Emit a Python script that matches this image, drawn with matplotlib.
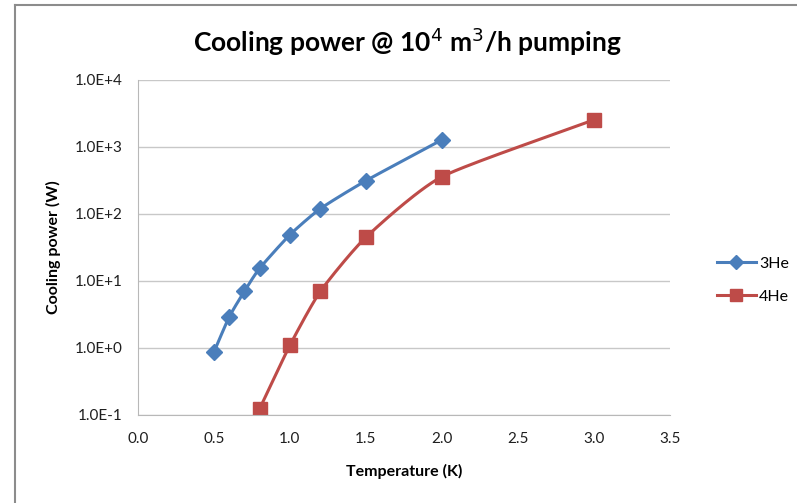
import matplotlib.pyplot as plt
import numpy as np
from matplotlib.lines import Line2D

plt.rcParams['font.family'] = ['Lato', 'DejaVu Sans']

he3_t = [0.5, 0.6, 0.7, 0.8, 1.0, 1.2, 1.5, 2.0]
he3_p = [0.87, 2.9, 7.0, 15.4, 49, 120, 314, 1280]
he4_t = [0.8, 1.0, 1.2, 1.5, 2.0, 3.0]
he4_p = [0.123, 1.1, 7.0, 45, 360, 2540]

y_ticks = [1e-1, 1e0, 1e1, 1e2, 1e3, 1e4]
y_labels = ["1.0E-1", "1.0E+0", "1.0E+1", "1.0E+2", "1.0E+3", "1.0E+4"]
x_ticks = [0.0, 0.5, 1.0, 1.5, 2.0, 2.5, 3.0, 3.5]


def smooth(x, y, n=30):
    # catmull-rom curve through the points, in log space (like Excel smoothing)
    px = np.array(x, float)
    py = np.log10(np.array(y, float))
    px = np.concatenate([[2 * px[0] - px[1]], px, [2 * px[-1] - px[-2]]])
    py = np.concatenate([[2 * py[0] - py[1]], py, [2 * py[-1] - py[-2]]])
    xs, ys = [], []
    for i in range(1, len(px) - 2):
        t = np.linspace(0, 1, n)
        for p, out in ((px, xs), (py, ys)):
            p0, p1, p2, p3 = p[i - 1], p[i], p[i + 1], p[i + 2]
            m1 = (p2 - p0) / 2 * 0.6
            m2 = (p3 - p1) / 2 * 0.6
            h00 = 2 * t**3 - 3 * t**2 + 1
            h10 = t**3 - 2 * t**2 + t
            h01 = -2 * t**3 + 3 * t**2
            h11 = t**3 - t**2
            out.extend(h00 * p1 + h10 * m1 + h01 * p2 + h11 * m2)
    return np.array(xs), 10 ** np.array(ys)


fig = plt.figure(figsize=(7.97, 5.03), dpi=100)
ax = fig.add_axes([0.1731, 0.175, 0.6675, 0.666])

blue = '#4a7ebb'
red = '#be4b48'

sx, sy = smooth(he3_t, he3_p)
ax.plot(sx, sy, color=blue, linewidth=2.2)
ax.plot(he3_t, he3_p, linestyle='none', marker='D', markersize=8, color=blue)
sx, sy = smooth(he4_t, he4_p)
ax.plot(sx, sy, color=red, linewidth=2.2)
ax.plot(he4_t, he4_p, linestyle='none', marker='s', markersize=10.5, color=red)

ax.set_yscale('log')
ax.set_ylim(1e-1, 1e4)
ax.set_xlim(0, 3.5)
ax.set_yticks(y_ticks)
ax.set_yticklabels(y_labels)
ax.minorticks_off()
ax.set_xticks(x_ticks)
ax.set_xticklabels([f"{v:.1f}" for v in x_ticks])
ax.tick_params(length=0, labelsize=11, colors='#1f1f1f')
ax.tick_params(axis='y', pad=11)
ax.tick_params(axis='x', pad=12)
ax.grid(axis='y', color='#c8c8c8', linewidth=1)
ax.set_axisbelow(True)
for s in ['top', 'right']:
    ax.spines[s].set_visible(False)
for s in ['left', 'bottom']:
    ax.spines[s].set_color('#b8b8b8')

ax.set_xlabel("Temperature (K)", fontsize=11.5, fontweight='bold', labelpad=13)
ax.set_ylabel("Cooling power (W)", fontsize=11.5, fontweight='bold', labelpad=10)
fig.text(0.511, 0.917, r"Cooling power @ 10$^{4}$ m$^{3}$/h pumping", ha='center', va='center',
         fontsize=19, fontweight='bold')

handles = [Line2D([], [], color=blue, marker='D', markersize=7, linewidth=2.2),
           Line2D([], [], color=red, marker='s', markersize=9, linewidth=2.2)]
fig.legend(handles, ["3He", "4He"], loc='center left', bbox_to_anchor=(0.882, 0.443),
           frameon=False, fontsize=11.5, handlelength=2.4, handletextpad=0.2, labelspacing=1.2)

# outer chart frame of the screenshot
fig.add_artist(Line2D([15 / 797, 1], [1 - 5 / 503, 1 - 5 / 503], color='#8c8c8c', linewidth=1.5))
fig.add_artist(Line2D([15 / 797, 15 / 797], [0, 1 - 5 / 503], color='#8c8c8c', linewidth=1.5))

fig.savefig("out.png", dpi=100)
